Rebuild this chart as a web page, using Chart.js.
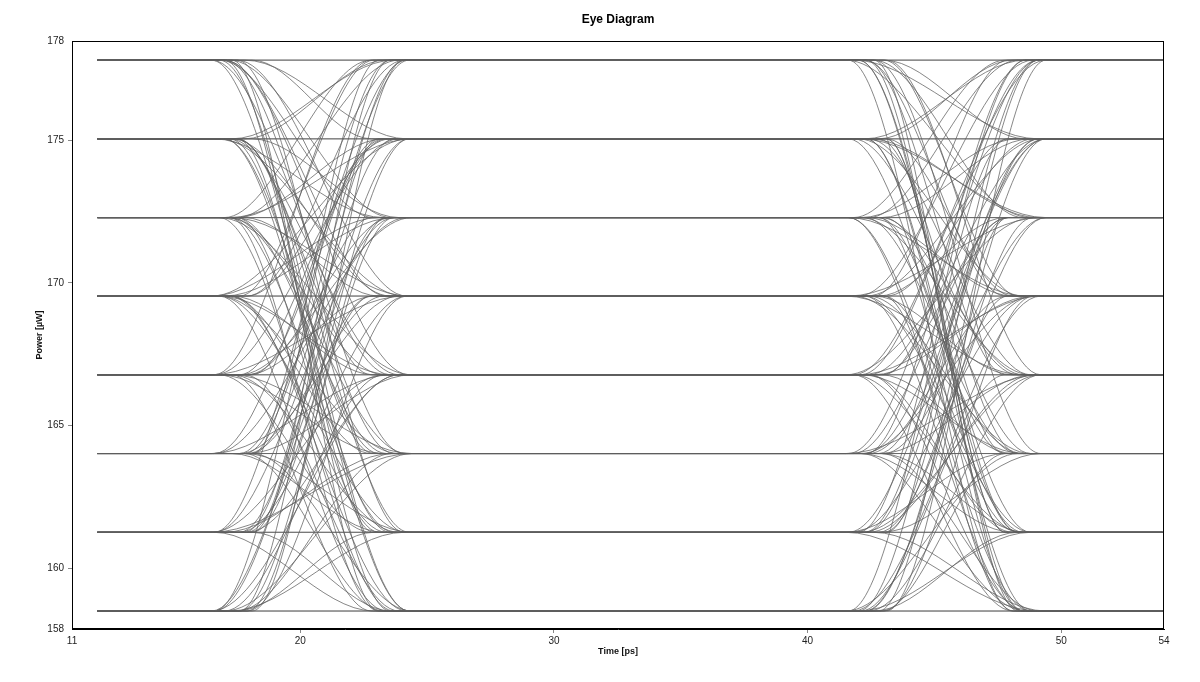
<!DOCTYPE html>
<html>
<head>
<meta charset="utf-8">
<title>Eye Diagram</title>
<script src="https://cdn.jsdelivr.net/npm/chart.js@4/dist/chart.umd.min.js"></script>
<style>
  html, body { margin: 0; background: #fff; }
  #wrap { width: 1200px; height: 682px; }
</style>
</head>
<body>
<div id="wrap"><canvas id="eye"></canvas></div>
<script>
// 8 power levels (uW)
var levels = [158.50, 161.26, 164.02, 166.78, 169.54, 172.29, 175.05, 177.81];
// symbol stream, de Bruijn order so every level pair shows up
var symbols = "0010203040506071121314151617223242526273343536374454647556576677";
// times in ps: trace start/end and the two edges (start, settled)
var tStart = 12.0, tEnd = 54.0;
var edge1 = [17.3, 23.6];
var edge2 = [42.3, 48.6];
// edge timing jitter (ps)
var jitterA = [-0.7, 0.2, 0.8, -0.3, 0.5, -0.8, 0.0, 0.6, -0.5, 0.3, -0.1];
var jitterB = [0.5, -0.7, 0.0, 0.8, -0.3, 0.3, -0.8, 0.6, -0.2, 0.1, -0.5, 0.7, -0.05];
// axis ticks (ends are the plot bounds, labelled rounded)
var xTicks = [11, 20, 30, 40, 50, 54.05];
var yTicks = [157.87, 160, 165, 170, 175, 178.48];

var n = symbols.length;
var datasets = [];
for (var i = 0; i < n * 2; i++) {
    var a = levels[+symbols[i % n]];
    var b = levels[+symbols[(i + 1) % n]];
    var c = levels[+symbols[(i + 2) % n]];
    var j1 = jitterA[i % jitterA.length], j2 = jitterB[i % jitterB.length];
    var j3 = jitterB[(i + 5) % jitterB.length], j4 = jitterA[(i + 3) % jitterA.length];
    datasets.push({
        data: [
            {x: tStart, y: a},
            {x: edge1[0] + j1, y: a},
            {x: edge1[1] + j2, y: b},
            {x: edge2[0] + j3, y: b},
            {x: edge2[1] + j4, y: c},
            {x: tEnd, y: c}
        ],
        borderColor: "rgba(95,95,95,0.75)",
        borderWidth: 1,
        pointRadius: 0,
        cubicInterpolationMode: "monotone",
        fill: false
    });
}

var tickFont = {family: "Liberation Sans, Arial, sans-serif", size: 10};
var titleFont = {family: "Liberation Sans, Arial, sans-serif", size: 9, weight: "bold"};

function edgeTick(ctx) {
    var last = ctx.scale.ticks.length - 1;
    return (ctx.index === 0 || ctx.index === last) ? "rgba(0,0,0,0)" : "#888";
}

// frame + centred title
var framePlugin = {
    id: "frame",
    afterDraw: function (chart) {
        var a = chart.chartArea, g = chart.ctx;
        g.save();
        g.strokeStyle = "#000";
        g.lineWidth = 1;
        g.strokeRect(a.left + 0.5, a.top + 0.5, a.right - a.left - 1, a.bottom - a.top - 1);
        g.fillStyle = "#000";
        g.font = "bold 12px 'Liberation Sans', Arial, sans-serif";
        g.textAlign = "center";
        g.textBaseline = "middle";
        g.fillText("Eye Diagram", (a.left + a.right) / 2, 20);
        g.restore();
    }
};

new Chart(document.getElementById("eye"), {
    type: "line",
    data: {datasets: datasets},
    options: {
        responsive: true,
        maintainAspectRatio: false,
        animation: false,
        events: [],
        layout: {padding: {left: 0, right: 36, top: 41, bottom: 0}},
        plugins: {
            legend: {display: false},
            tooltip: {enabled: false},
            title: {display: false}
        },
        scales: {
            x: {
                type: "linear",
                min: 11,
                max: 54.05,
                afterBuildTicks: function (s) { s.ticks = xTicks.map(function (v) { return {value: v}; }); },
                afterFit: function (s) { s.height = 53; },
                ticks: {
                    font: tickFont,
                    color: "#222",
                    padding: 2,
                    maxRotation: 0,
                    autoSkip: false,
                    callback: function (v) { return Math.round(v); }
                },
                grid: {drawOnChartArea: false, tickLength: 4, tickColor: edgeTick},
                border: {display: true, color: "#000", width: 1},
                title: {display: true, text: "Time [ps]", font: titleFont, color: "#111", padding: {top: 0, bottom: 25}}
            },
            y: {
                type: "linear",
                min: 157.87,
                max: 178.48,
                afterBuildTicks: function (s) { s.ticks = yTicks.map(function (v) { return {value: v}; }); },
                afterFit: function (s) { s.width = 72; },
                ticks: {
                    font: tickFont,
                    color: "#222",
                    padding: 4,
                    autoSkip: false,
                    callback: function (v) { return Math.round(v); }
                },
                grid: {drawOnChartArea: false, tickLength: 4, tickColor: edgeTick},
                border: {display: true, color: "#000", width: 1},
                title: {display: true, text: "Power [µW]", font: titleFont, color: "#111", padding: {top: 34, bottom: 0}}
            }
        }
    },
    plugins: [framePlugin]
});
</script>
</body>
</html>
